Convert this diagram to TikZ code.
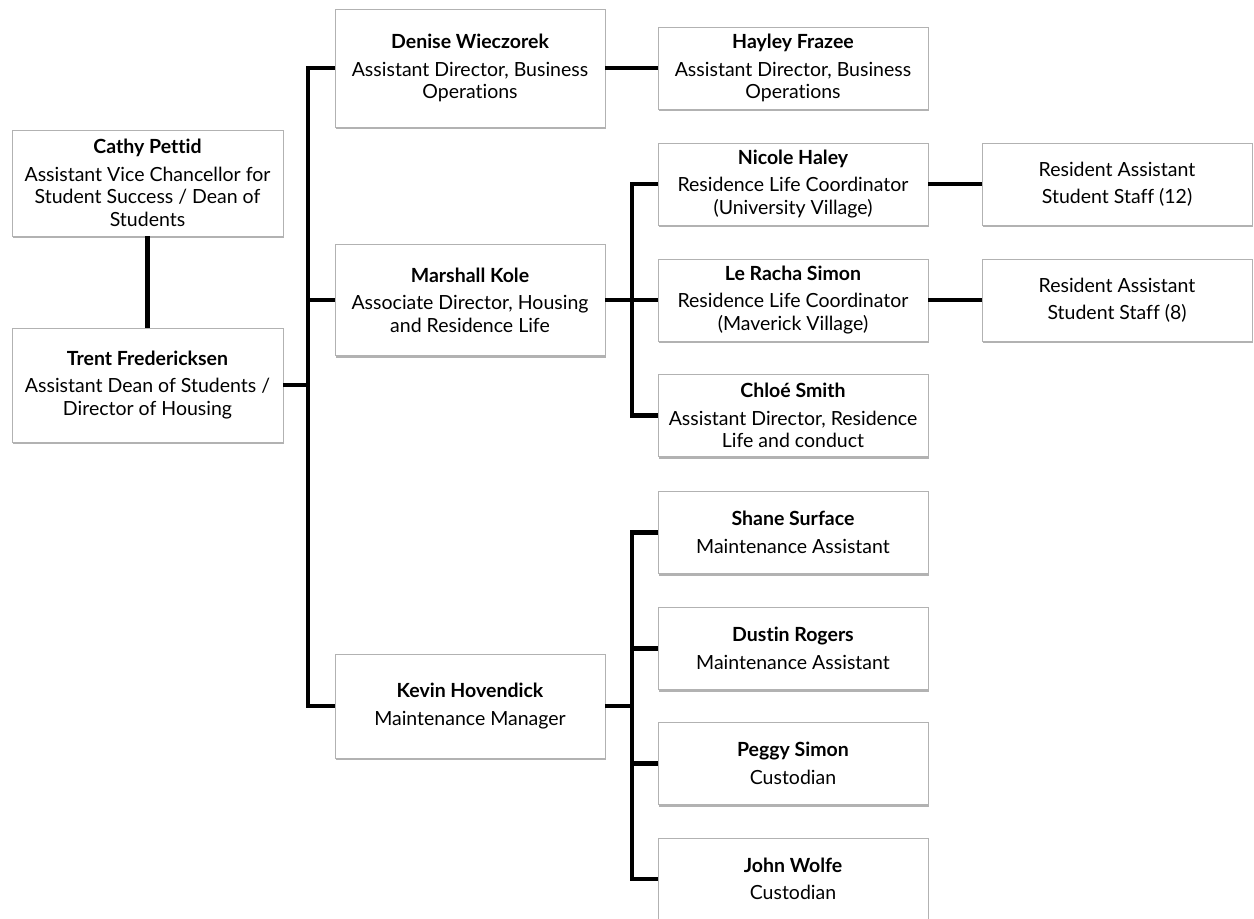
\documentclass[tikz,border=0pt]{standalone}
\usepackage{fontspec}
\setmainfont{Lato}[Ligatures=NoCommon]
\usetikzlibrary{shadows}

\tikzset{
  box/.style={draw=gray!60, fill=white, line width=0.8pt, align=center,
    minimum width=270pt, minimum height=82pt, inner sep=0pt,
    font=\fontsize{19.5}{22.5}\selectfont,
    drop shadow={shadow xshift=1.2pt, shadow yshift=-2.4pt, fill=black, opacity=0.3}},
  link/.style={line width=4.8pt, black}
}

\begin{document}
\begin{tikzpicture}[x=1pt, y=-1pt]
    \useasboundingbox (0,0) rectangle (1254,919);
    \fill[white] (0,0) rectangle (1254,919);

    % left column
    \node[box, minimum width=271pt, minimum height=106pt] (cathy) at (147.5,183)
        {\textbf{Cathy Pettid}\\[5pt]Assistant Vice Chancellor for\\Student Success / Dean of\\Students};
    \node[box, minimum width=271pt, minimum height=114pt] (trent) at (147.5,385)
        {\textbf{Trent Fredericksen}\\[5pt]Assistant Dean of Students /\\Director of Housing};

    % second column
    \node[box, minimum height=118pt] (denise) at (470,68)
        {\textbf{Denise Wieczorek}\\[5pt]Assistant Director, Business\\Operations};
    \node[box, minimum height=111pt] (marshall) at (470,300)
        {\textbf{Marshall Kole}\\[5pt]Associate Director, Housing\\and Residence Life};
    \node[box, minimum height=104pt] (kevin) at (470,706)
        {\textbf{Kevin Hovendick}\\[5pt]Maintenance Manager};

    % third column
    \node[box] (hayley) at (793,68)
        {\textbf{Hayley Frazee}\\[5pt]Assistant Director, Business\\Operations};
    \node[box] (nicole) at (793,184)
        {\textbf{Nicole Haley}\\[5pt]Residence Life Coordinator\\(University Village)};
    \node[box] (leracha) at (793,300)
        {\textbf{Le Racha Simon}\\[5pt]Residence Life Coordinator\\(Maverick Village)};
    \node[box] (chloe) at (793,415.5)
        {\textbf{Chloé Smith}\\[5pt]Assistant Director, Residence\\Life and conduct};
    \node[box] (shane) at (793,532.5)
        {\textbf{Shane Surface}\\[5pt]Maintenance Assistant};
    \node[box] (dustin) at (793,648.5)
        {\textbf{Dustin Rogers}\\[5pt]Maintenance Assistant};
    \node[box] (peggy) at (793,763.5)
        {\textbf{Peggy Simon}\\[5pt]Custodian};
    \node[box] (john) at (793,879)
        {\textbf{John Wolfe}\\[5pt]Custodian};

    % student staff
    \node[box] (raA) at (1117,184) {Resident Assistant\\[5pt]Student Staff (12)};
    \node[box] (raB) at (1117,300) {Resident Assistant\\[5pt]Student Staff (8)};

    % connectors
    \coordinate (mainbus) at (308,385);
    \coordinate (resbus) at (632,300);
    \coordinate (maintbus) at (632,706);

    \draw[link] (cathy.south) -- (trent.north);
    \draw[link] (trent.east) -- (trent.east -| mainbus);
    \draw[link] (denise.west) -| (mainbus) |- (kevin.west);
    \draw[link] (marshall.west) -- (marshall.west -| mainbus);
    \draw[link] (denise) -- (hayley);

    \draw[link] (nicole.west) -| (resbus) |- (chloe.west);
    \draw[link] (marshall.east) -- (leracha.west);
    \draw[link] (nicole) -- (raA);
    \draw[link] (leracha) -- (raB);

    \draw[link] (shane.west) -| (maintbus) |- (john.west);
    \draw[link] (kevin.east) -- (maintbus);
    \draw[link] (dustin.west) -- (dustin.west -| maintbus);
    \draw[link] (peggy.west) -- (peggy.west -| maintbus);
\end{tikzpicture}
\end{document}
